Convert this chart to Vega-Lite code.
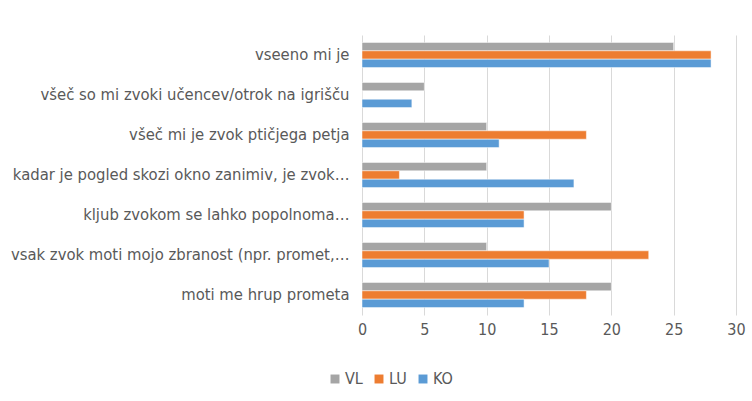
{
  "$schema": "https://vega.github.io/schema/vega-lite/v6.json",
  "width": 374,
  "height": 280,
  "autosize": {"type": "none"},
  "padding": {"left": 362, "top": 35, "right": 16, "bottom": 86},
  "background": "white",
  "data": {
    "values": [
      {"q": "vseeno mi je", "s": "VL", "v": 25},
      {"q": "vseeno mi je", "s": "LU", "v": 28},
      {"q": "vseeno mi je", "s": "KO", "v": 28},
      {"q": "všeč so mi zvoki učencev/otrok na igrišču", "s": "VL", "v": 5},
      {"q": "všeč so mi zvoki učencev/otrok na igrišču", "s": "LU", "v": 0},
      {"q": "všeč so mi zvoki učencev/otrok na igrišču", "s": "KO", "v": 4},
      {"q": "všeč mi je zvok ptičjega petja", "s": "VL", "v": 10},
      {"q": "všeč mi je zvok ptičjega petja", "s": "LU", "v": 18},
      {"q": "všeč mi je zvok ptičjega petja", "s": "KO", "v": 11},
      {"q": "kadar je pogled skozi okno zanimiv, je zvok…", "s": "VL", "v": 10},
      {"q": "kadar je pogled skozi okno zanimiv, je zvok…", "s": "LU", "v": 3},
      {"q": "kadar je pogled skozi okno zanimiv, je zvok…", "s": "KO", "v": 17},
      {"q": "kljub zvokom se lahko popolnoma…", "s": "VL", "v": 20},
      {"q": "kljub zvokom se lahko popolnoma…", "s": "LU", "v": 13},
      {"q": "kljub zvokom se lahko popolnoma…", "s": "KO", "v": 13},
      {"q": "vsak zvok moti mojo zbranost (npr. promet,…", "s": "VL", "v": 10},
      {"q": "vsak zvok moti mojo zbranost (npr. promet,…", "s": "LU", "v": 23},
      {"q": "vsak zvok moti mojo zbranost (npr. promet,…", "s": "KO", "v": 15},
      {"q": "moti me hrup prometa", "s": "VL", "v": 20},
      {"q": "moti me hrup prometa", "s": "LU", "v": 18},
      {"q": "moti me hrup prometa", "s": "KO", "v": 13}
    ]
  },
  "mark": {"type": "bar", "stroke": "white", "strokeWidth": 0.5},
  "encoding": {
    "y": {
      "field": "q", "type": "nominal", "sort": null,
      "scale": {"paddingInner": 0.37, "paddingOuter": 0.185},
      "axis": {
        "title": null, "domain": false, "ticks": false, "grid": false,
        "labelPadding": 13, "labelFontSize": 16.5, "labelColor": "#595959",
        "labelFont": "DejaVu Sans Condensed", "labelLimit": 400
      }
    },
    "yOffset": {"field": "s", "type": "nominal", "sort": ["VL", "LU", "KO"], "scale": {"paddingInner": 0, "paddingOuter": 0}},
    "x": {
      "field": "v", "type": "quantitative",
      "scale": {"domain": [0, 30]},
      "axis": {
        "title": null, "domain": false, "ticks": false, "grid": true,
        "gridColor": "#D9D9D9", "gridWidth": 1, "values": [0, 5, 10, 15, 20, 25, 30],
        "labelFlush": false,
        "labelPadding": 6, "labelFontSize": 16, "labelColor": "#595959",
        "labelFont": "DejaVu Sans Condensed"
      }
    },
    "color": {
      "field": "s", "type": "nominal",
      "scale": {"domain": ["VL", "LU", "KO"], "range": ["#A5A5A5", "#ED7D31", "#5B9BD5"]},
      "legend": {
        "title": null, "orient": "none", "direction": "horizontal",
        "legendX": -35, "legendY": 336,
        "symbolType": "square", "symbolSize": 80, "symbolStrokeWidth": 0,
        "labelFontSize": 16, "labelColor": "#595959",
        "labelFont": "DejaVu Sans Condensed",
        "columnPadding": 8, "labelOffset": 2
      }
    }
  },
  "config": {"view": {"stroke": null}}
}
